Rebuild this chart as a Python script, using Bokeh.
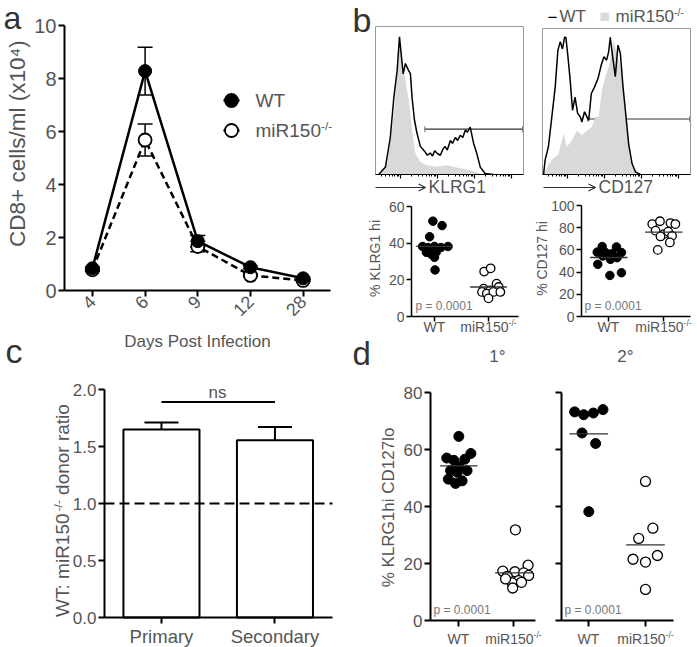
import math
import numpy as np
from bokeh.plotting import figure
from bokeh.layouts import row, column
from bokeh.models import (Label, Whisker, ColumnDataSource, FixedTicker, LinearAxis,
                          Arrow, OpenHead, TeeHead)
from bokeh.embed import file_html
from bokeh.resources import INLINE

FONT = "Liberation Sans"
GRAY = "#555555"
DARK = "#333333"

# ---------------- data ----------------
# panel a
days = ["4", "6", "9", "12", "28"]
wt_mean = [0.84, 8.28, 1.86, 0.88, 0.46]
wt_err = [0.05, 0.90, 0.22, 0.05, 0.03]
ko_mean = [0.78, 5.68, 1.66, 0.57, 0.38]
ko_err = [0.05, 0.60, 0.20, 0.04, 0.03]

# panel b histograms (x: fluorescence, 0-100 scale; y: % of max)
h1_wt_x = [2.2, 6.7, 10, 12.4, 14.6, 16.2, 17.3, 18.7, 20.2, 22, 23.6, 24.7, 26.3, 28, 30.3,
           33.7, 35, 37, 38.5, 40, 42, 43.8, 45.5, 47, 48.5, 50.6, 52, 54, 55.5, 57.3, 59,
           60.7, 62, 64, 66.3, 68.5, 70.8, 74, 79.8]
h1_wt_y = [0, 5, 25, 52, 70, 93, 82, 68, 75, 71, 68, 52, 37, 28, 19,
           15, 13, 14.5, 12.5, 16, 14, 13, 17, 19, 16.5, 23, 21, 25, 23, 26.5, 25,
           30, 28.5, 32, 21, 14, 5, 0.7, 0]
h1_ko_x = [3.4, 7.9, 11.2, 13.5, 15.7, 16.4, 18, 20.2, 22.5, 24.7, 27, 30.3, 34.8, 41.6,
           48.3, 55, 61.8, 67.4, 73]
h1_ko_y = [0, 7.4, 30, 52, 79, 90, 75, 64, 50, 30, 14, 8.5, 6.3, 5.2, 6.3, 4.7, 3.4, 1.8, 0]
h1_gate = [33.3, 99.3, 30.6]

h2_wt_x = [0.7, 1.8, 4, 6.3, 8.6, 10.4, 12, 13.5, 14.9, 15.8, 17.2, 18.7, 20.3, 22, 23.7,
           25.5, 26.6, 28.4, 30, 31.2, 33, 35.2, 37.5, 39.7, 41.5, 43.3, 44.7, 45.8, 47.4,
           49.2, 51, 52.6, 54.4, 56, 58.2, 60.5, 62.8, 66]
h2_wt_y = [0, 10, 19, 39.5, 60, 85, 91, 86, 94, 94, 80.6, 64.6, 44, 53, 42,
           39.5, 36, 43, 39.5, 37, 55.5, 60, 65.7, 75, 80.6, 78.3, 84, 94, 80.6,
           67, 88.6, 83, 60, 44, 21, 7.5, 1.8, 0]
h2_ko_x = [0.7, 3, 6.3, 10.8, 14.2, 16.5, 19.9, 23.3, 26.6, 30, 33.4, 35.7, 37.9, 40.2,
           42.4, 44.7, 46.5, 48, 50.3, 52.6, 54.9, 57.1, 59.4, 62.8, 65]
h2_ko_y = [0, 5, 10, 14, 28, 19, 23.5, 30, 27, 30, 32.6, 39.5, 39.5, 57.8,
           67, 73.7, 83, 92, 83, 73.7, 55.5, 30, 10, 0.7, 0]
h2_gate = [30.7, 99.5, 38.0]

# panel b scatter
klrg1_wt = [52.0, 49.6, 43.5, 38.2, 37.6, 38.2, 37.6, 38.2, 35.0, 34.0, 35.0, 32.3, 25.4]
klrg1_wt_dx = [-0.03, 0.14, -0.09, -0.22, -0.12, 0.0, 0.12, 0.25, -0.15, -0.06, 0.03, 0.0, 0.01]
klrg1_ko = [24.5, 26.3, 15.2, 14.3, 17.9, 16.1, 13.4, 12.5, 13.4, 13.4, 9.9]
klrg1_ko_dx = [-0.08, 0.04, -0.09, 0.03, 0.15, 0.19, -0.12, -0.03, 0.09, 0.22, 0.0]
cd127_wt = [63, 62.7, 58, 57.6, 56.7, 57.6, 54.5, 51.5, 53, 47, 37, 39.4]
cd127_wt_dx = [-0.12, 0.14, -0.21, -0.06, 0.06, 0.23, -0.11, 0.03, 0.15, -0.2, 0.02, 0.23]
cd127_ko = [83.3, 85.8, 84.2, 83.3, 77.3, 74.2, 76.4, 72.1, 72.7, 60, 66.7]
cd127_ko_dx = [-0.21, -0.07, 0.12, 0.21, -0.15, 0.0, 0.08, -0.06, 0.15, -0.11, 0.11]

# panel c
ratio_groups = ["Primary", "Secondary"]
ratio_mean = [1.65, 1.555]
ratio_err = [0.06, 0.115]
ratio_ref = 1.0
ns_level = 1.89

# panel d
d1_wt = [64.6, 57, 56.2, 56.6, 58.6, 54, 52.6, 52.6, 52, 49.6, 49, 48.1]
d1_wt_dx = [0.0, -0.22, -0.09, 0.11, 0.22, 0.0, -0.15, 0.15, -0.03, -0.19, 0.06, -0.06]
d1_ko = [31.8, 19.4, 17.3, 17.1, 16.7, 15.5, 15.8, 14, 13.2, 13.4, 11.4, 14.6]
d1_ko_dx = [0.03, 0.26, -0.2, 0.02, 0.18, -0.12, 0.27, 0.09, -0.03, 0.14, -0.02, -0.15]
d2_wt = [73.2, 72.2, 72.8, 74, 65.8, 62.1, 38.2]
d2_wt_dx = [-0.25, -0.09, 0.08, 0.25, -0.12, 0.12, 0.0]
d2_ko = [48.8, 32.4, 28.8, 21.5, 20.5, 22.8, 10.9]
d2_ko_dx = [0.0, 0.13, -0.12, -0.22, 0.0, 0.21, 0.0]

p_text = "p = 0.0001"

# ---------------- helpers ----------------
CW = {'W': .944, 'T': .611, 'm': .833, 'i': .222, 'R': .722, '1': .556, '5': .556, '0': .556,
      '-': .333, '/': .278, ' ': .278, 'p': .556, '=': .584, '.': .278, 'K': .667, 'L': .556,
      'G': .778, 'C': .722, 'D': .722, '2': .556, '7': .556, 'h': .556, 'l': .222, 'o': .556,
      '%': .889, 'd': .556, 'n': .556, 'r': .333, 'a': .556, 't': .278, ':': .278, '+': .584,
      'c': .5, 'e': .556, 's': .5, 'x': .5, '4': .556, '(': .333, ')': .333, '8': .556}
SUP = 0.62


def tw(s, fs):
    return sum(CW.get(c, 0.556) for c in s) * fs


class Panel:
    """A figure whose frame fills its whole canvas; axes sit at fixed data locations."""

    def __init__(self, origin, size, frame, xr, yr):
        ox, oy = origin
        W, H = size
        self.x0, self.y0, self.x1, self.y1 = frame
        self.xr, self.yr = xr, yr
        full_x = (self.X(ox), self.X(ox + W))
        full_y = (self.Y(oy + H), self.Y(oy))
        p = figure(width=W, height=H, x_range=full_x, y_range=full_y,
                   min_border_left=0, min_border_right=0, min_border_top=0,
                   min_border_bottom=0, output_backend="svg", toolbar_location=None)
        p.min_border = 0
        p.xgrid.visible = False
        p.ygrid.visible = False
        p.outline_line_color = None
        p.background_fill_color = "white"
        p.border_fill_color = "white"
        self.xax = p.below[0]
        self.yax = p.left[0]
        self.xax.fixed_location = yr[0]
        self.xax.bounds = xr
        self.yax.fixed_location = xr[0]
        self.yax.bounds = yr
        self.p = p

    def X(self, px):
        a, b = self.xr
        return a + (px - self.x0) / (self.x1 - self.x0) * (b - a)

    def Y(self, py):
        c, d = self.yr
        return c + (self.y1 - py) / (self.y1 - self.y0) * (d - c)


def lab(P, px, py, text, fs, color=GRAY, align="left", baseline="alphabetic", angle=0.0):
    # position given by the text's baseline; drawn with a centred baseline
    if baseline == "alphabetic":
        if angle == 0:
            py = py - 0.35 * fs
        else:
            px = px - 0.35 * fs
        baseline = "middle"
    P.p.add_layout(Label(x=P.X(px), y=P.Y(py), text=text, text_font=FONT,
                         text_font_size=f"{fs:.1f}px", text_color=color, text_align=align,
                         text_baseline=baseline, angle=angle))


def rich(P, parts, px, py, fs, color=GRAY, align="center", vertical=False):
    widths = [tw(t, fs * SUP if s else fs) for t, s in parts]
    total = sum(widths)
    if not vertical:
        cur = px - total / 2 if align == "center" else px
    else:
        base_x = px + 0.36 * fs
        cur = py + total / 2
    for (t, s), w in zip(parts, widths):
        f = fs * SUP if s else fs
        lead = tw(t[:len(t) - len(t.lstrip())], f)   # leading spaces collapse in SVG
        t = t.lstrip()
        if not vertical:
            yy = py - (0.4 * fs if s else 0)
            lab(P, cur + lead, yy, t, f, color)
            cur += w
        else:
            xx = base_x - (0.4 * fs if s else 0)
            lab(P, xx, cur - lead, t, f, color, angle=math.pi / 2)
            cur -= w


def style_axis(ax, fs=None, tick_out=6, lw=2.0, standoff=3, color=GRAY, line_color="black"):
    ax.axis_line_width = lw
    ax.axis_line_color = line_color
    ax.major_tick_line_width = lw
    ax.major_tick_line_color = "black"
    ax.major_tick_out = tick_out
    ax.major_tick_in = 0
    ax.minor_tick_line_width = lw
    ax.minor_tick_line_color = "black"
    ax.minor_tick_out = tick_out
    ax.minor_tick_in = 0
    if fs:
        ax.major_label_text_font = FONT
        ax.major_label_text_font_size = f"{fs}px"
        ax.major_label_text_color = color
        ax.major_label_standoff = standoff


def marks_only(ticks):
    # tick marks without tick labels
    return FixedTicker(ticks=[], minor_ticks=list(ticks))


# ---------------- panel a ----------------
A = Panel((0, 0), (350, 372), (64, 25, 330, 290), (-0.53, 4.52), (0, 10))
pa = A.p
xs = list(range(len(days)))
style_axis(A.xax, 18, standoff=2)
style_axis(A.yax, 20, standoff=2)
A.xax.ticker = FixedTicker(ticks=xs)
A.xax.major_label_overrides = {i: d for i, d in enumerate(days)}
A.xax.major_label_orientation = math.pi / 4
A.yax.ticker = FixedTicker(ticks=[0, 2, 4, 6, 8, 10])

pa.line(xs, wt_mean, line_width=2.5, color="black")
pa.line(xs, ko_mean, line_width=2.5, color="black", line_dash="7 4")
for m, e in ((wt_mean, wt_err), (ko_mean, ko_err)):
    src = ColumnDataSource(dict(x=xs, lo=[a - b for a, b in zip(m, e)],
                                hi=[a + b for a, b in zip(m, e)]))
    pa.add_layout(Whisker(source=src, base="x", lower="lo", upper="hi", line_width=1.5,
                          upper_head=TeeHead(size=15, line_width=1.5),
                          lower_head=TeeHead(size=15, line_width=1.5)))
pa.scatter(xs, ko_mean, size=13, fill_color="white", line_color="black", line_width=1.8)
pa.scatter(xs, wt_mean, size=13, fill_color="black", line_color="black")
# legend
for py, fill in ((100, "black"), (130, "white")):
    pa.line([A.X(223), A.X(239)], [A.Y(py)] * 2, line_width=2.5, color="black")
    pa.scatter([A.X(231)], [A.Y(py)], size=13, fill_color=fill, line_color="black",
               line_width=1.8)
lab(A, 255, 107, "WT", 19)
rich(A, [("miR150", False), ("-/-", True)], 255, 137, 19, align="left")
lab(A, 3, 29, "a", 32, color=DARK)
lab(A, 17, 140, "CD8+ cells/ml  (x10\u2074)", 22.5, align="center", baseline="middle",
    angle=math.pi / 2)
lab(A, 197, 347, "Days Post Infection", 17, align="center")
lab(A, 5, 362, "c", 34, color=DARK)

# ---------------- panel c ----------------
C = Panel((0, 372), (350, 275), (104, 389, 332, 617), (0.498, 2.507), (0, 2.0))
pc = C.p
cx = [1, 2]
style_axis(C.xax, 18.5, standoff=2)
style_axis(C.yax, 17, standoff=2)
C.xax.ticker = FixedTicker(ticks=cx)
C.xax.major_label_overrides = {i: g for i, g in zip(cx, ratio_groups)}
C.yax.ticker = FixedTicker(ticks=[0, 0.5, 1.0, 1.5, 2.0])
C.yax.major_label_overrides = {0: "0.0", 0.5: "0.5", 1: "1.0", 1.5: "1.5", 2: "2.0"}
pc.vbar(x=cx, top=ratio_mean, width=0.67, fill_color="white", line_color="black",
        line_width=2)
srcc = ColumnDataSource(dict(x=cx, lo=ratio_mean,
                             hi=[a + b for a, b in zip(ratio_mean, ratio_err)]))
pc.add_layout(Whisker(source=srcc, base="x", lower="lo", upper="hi", line_width=2,
                      lower_head=None, upper_head=TeeHead(size=34, line_width=2)))
pc.line(list(C.xr), [ratio_ref, ratio_ref], line_dash="10 5", line_width=2, color="black")
pc.line(cx, [ns_level, ns_level], line_width=2, color="black")
lab(C, 217, 398, "ns", 17, align="center")
rich(C, [("WT: miR150", False), ("-/-", True), (" donor ratio", False)], 62, 510, 19,
     vertical=True)


# ---------------- panel b: histograms ----------------
def hist_panel(origin, size, frame, wx, wy, kx, ky, gate):
    P = Panel(origin, size, frame, (0, 100), (0, 100))
    p = P.p
    # box: gray sides
    style_axis(P.yax, tick_out=0, lw=1, line_color="#999999")
    P.yax.ticker = FixedTicker(ticks=[])
    # bottom: black line with log-style tick marks
    decades = [17, 42, 67, 92]
    minors = [d + 25 * math.log10(k) for d in (-8, 17, 42, 67) for k in range(2, 10)
              if 0 < d + 25 * math.log10(k) < 100]
    style_axis(P.xax, tick_out=4, lw=1.2)
    P.xax.ticker = marks_only(decades)
    ax2 = LinearAxis(fixed_location=0, bounds=(0, 100), ticker=marks_only(minors))
    style_axis(ax2, tick_out=2, lw=1)
    p.add_layout(ax2, "below")
    for side, loc in (("right", 100), ("above", 100)):
        ax = LinearAxis(fixed_location=loc, bounds=(0, 100), ticker=FixedTicker(ticks=[]))
        style_axis(ax, tick_out=0, lw=1, line_color="#999999")
        p.add_layout(ax, side)
    p.varea(x=kx, y1=[0] * len(kx), y2=ky, fill_color="#d9d9d9")
    p.line(wx, wy, line_color="black", line_width=1.5)
    gsrc = ColumnDataSource(dict(y=[gate[2]], lo=[gate[0]], hi=[gate[1]]))
    p.add_layout(Whisker(source=gsrc, base="y", lower="lo", upper="hi", dimension="width",
                         line_width=1.2, line_color="#333333",
                         lower_head=TeeHead(size=6, line_width=1, line_color="#777777"),
                         upper_head=TeeHead(size=6, line_width=1, line_color="#777777")))
    return P


H1 = hist_panel((350, 0), (183, 197), (375, 26, 523, 174), h1_wt_x, h1_wt_y, h1_ko_x,
                h1_ko_y, h1_gate)
H2 = hist_panel((533, 0), (164, 197), (542, 28, 690, 174), h2_wt_x, h2_wt_y, h2_ko_x,
                h2_ko_y, h2_gate)
lab(H1, 352, 31, "b", 34, color=DARK)
for P, x0, x1, tx, txt in ((H1, 375, 425, 428, "KLRG1"), (H2, 543, 595, 598, "CD127")):
    P.p.add_layout(Arrow(x_start=P.X(x0), y_start=P.Y(187), x_end=P.X(x1), y_end=P.Y(187),
                         line_width=1.2, line_color="#333333",
                         end=OpenHead(size=7, line_width=1.2, line_color="#333333")))
    lab(P, tx, 193, txt, 17.5)
lab(H2, 547, 22, "\u2212", 17, color="black")
lab(H2, 559, 22, "WT", 17)
lab(H2, 599, 22, "\u25A0", 17, color="#d9d9d9")
rich(H2, [("miR150", False), ("-/-", True)], 615, 22, 17, align="left")


# ---------------- panel b / d: dot plots ----------------
def dot_panel(origin, size, frame, xr, yr, yticks, fs_tick, wt, wt_dx, ko, ko_dx, msize,
              lw_axis=1.5, show_ylabels=True, tick_out=5):
    P = Panel(origin, size, frame, xr, yr)
    p = P.p
    style_axis(P.xax, tick_out=tick_out, lw=lw_axis)
    P.xax.ticker = marks_only([1, 2])
    if show_ylabels:
        style_axis(P.yax, fs_tick, tick_out=tick_out, lw=lw_axis, standoff=2)
        P.yax.ticker = FixedTicker(ticks=yticks)
    else:
        style_axis(P.yax, tick_out=tick_out, lw=lw_axis)
        P.yax.ticker = marks_only(yticks)
    p.scatter([1 + d for d in wt_dx], wt, size=msize, fill_color="black", line_color="black")
    p.scatter([2 + d for d in ko_dx], ko, size=msize, fill_color="white", line_color="black",
              line_width=1.3)
    mw, mk = float(np.mean(wt)), float(np.mean(ko))
    p.segment(x0=[1 - 0.34, 2 - 0.34], x1=[1 + 0.34, 2 + 0.34], y0=[mw, mk], y1=[mw, mk],
              line_color="#333333", line_width=1.3)
    return P


def xlabels(P, px_wt, px_ko, baseline, fs):
    lab(P, px_wt, baseline, "WT", fs, align="center")
    rich(P, [("miR150", False), ("-/-", True)], px_ko, baseline, fs)


S1 = dot_panel((350, 197), (178, 138), (411, 206, 518, 316), (0.574, 2.556), (0, 60),
               [0, 20, 40, 60], 14, klrg1_wt, klrg1_wt_dx, klrg1_ko, klrg1_ko_dx, 8.5)
S2 = dot_panel((528, 197), (169, 138), (581, 205, 690, 316), (0.504, 2.485), (0, 100),
               [0, 20, 40, 60, 80, 100], 14, cd127_wt, cd127_wt_dx, cd127_ko, cd127_ko_dx,
               8.5)
xlabels(S1, 434, 488, 331.5, 14)
xlabels(S2, 608, 663, 331.5, 14)
lab(S1, 415, 310, p_text, 12, color="#777777")
lab(S2, 584, 310, p_text, 12, color="#777777")
lab(S1, 374, 258, "% KLRG1 hi", 14, align="center", baseline="middle", angle=math.pi / 2)
lab(S2, 541, 258, "% CD127 hi", 14, align="center", baseline="middle", angle=math.pi / 2)

D1 = dot_panel((350, 335), (198, 312), (430, 392, 535, 620), (0.485, 2.395), (0, 80),
               [0, 20, 40, 60, 80], 17, d1_wt, d1_wt_dx, d1_ko, d1_ko_dx, 10,
               lw_axis=2, tick_out=6)
D2 = dot_panel((548, 335), (149, 312), (561, 392, 673, 620), (0.518, 2.494), (0, 80),
               [0, 20, 40, 60, 80], 17, d2_wt, d2_wt_dx, d2_ko, d2_ko_dx, 10,
               lw_axis=2, tick_out=6, show_ylabels=False)
xlabels(D1, 458, 513, 643, 14)
xlabels(D2, 588, 645, 643, 14)
lab(D1, 433, 614, p_text, 12, color="#777777")
lab(D2, 564, 614, p_text, 12, color="#777777")
lab(D1, 352, 365, "d", 33, color=DARK)
lab(D1, 497, 362, "1\u00b0", 17, align="center")
lab(D2, 625, 362, "2\u00b0", 17, align="center")
lab(D1, 388, 507, "% KLRG1hi CD127lo", 17, align="center", baseline="middle",
    angle=math.pi / 2)

layout = row(column(A.p, C.p),
             column(row(H1.p, H2.p), row(S1.p, S2.p), row(D1.p, D2.p)))

open("out.html", "w").write(file_html(layout, INLINE))
